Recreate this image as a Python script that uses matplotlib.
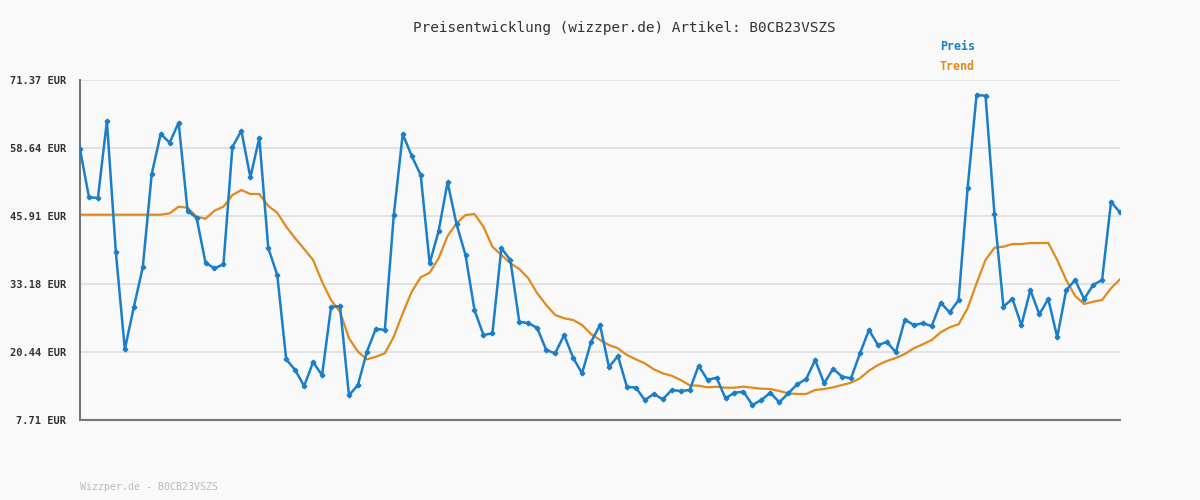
import matplotlib
matplotlib.use("Agg")
import matplotlib.pyplot as plt

price = [58.45,49.41,49.28,63.69,39.11,20.95,28.81,36.30,53.77,61.26,59.63,63.38,46.84,45.59,37.16,36.11,36.86,58.83,61.88,53.15,
         60.51,39.91,34.86,19.07,17.07,14.07,18.57,16.08,28.87,29.05,12.33,14.26,20.50,24.80,24.56,46.09,61.26,57.14,53.58,37.05,
         43.10,52.22,44.35,38.60,28.30,23.62,23.94,39.86,37.67,26.06,25.87,24.93,20.82,20.20,23.62,19.37,16.45,22.31,25.50,17.63,
         19.69,13.94,13.76,11.45,12.58,11.58,13.33,13.14,13.33,17.88,15.20,15.63,11.77,12.82,13.01,10.52,11.45,12.82,11.02,12.71,
         14.39,15.39,18.94,14.58,17.31,15.82,15.52,20.20,24.56,21.75,22.31,20.39,26.49,25.50,25.81,25.31,29.67,27.87,30.18,51.09,
         68.56,68.43,46.22,28.92,30.42,25.44,32.05,27.50,30.36,23.19,32.05,33.92,30.36,32.99,33.92,48.53,46.60]
trend = [46.15,46.15,46.15,46.15,46.15,46.15,46.15,46.15,46.15,46.15,46.41,47.65,47.46,45.77,45.40,46.90,47.65,49.84,50.77,50.02,
         50.02,47.78,46.52,43.90,41.73,39.73,37.67,33.60,30.18,27.99,23.01,20.50,19.07,19.56,20.20,23.31,27.69,31.73,34.43,35.29,
         37.99,42.16,44.54,46.09,46.28,43.90,40.16,38.60,37.05,35.98,34.24,31.43,29.24,27.37,26.75,26.43,25.50,23.81,22.69,21.75,
         21.13,19.88,19.07,18.32,17.20,16.45,16.00,15.20,14.21,14.13,13.83,13.94,13.76,13.76,13.94,13.76,13.57,13.51,13.14,12.71,
         12.58,12.58,13.33,13.51,13.83,14.26,14.69,15.52,16.94,18.01,18.76,19.32,20.07,21.13,21.88,22.69,24.13,25.07,25.63,28.62,
         33.30,37.67,39.97,40.16,40.66,40.66,40.85,40.85,40.85,37.67,33.92,30.93,29.43,29.86,30.18,32.37,34.05]
yticks = [7.71, 20.44, 33.18, 45.91, 58.64, 71.37]
title = "Preisentwicklung (wizzper.de) Artikel: B0CB23VSZS"
footer = "Wizzper.de - B0CB23VSZS"

plt.rcParams['font.family'] = ['DejaVu Sans Mono']
bg = '#f9f9f9'
fig = plt.figure(figsize=(12, 5), dpi=100, facecolor=bg)
ax = fig.add_axes([80/1200, 80/500, 1040/1200, 340/500], facecolor=bg)
x = list(range(len(price)))
ax.plot(x, trend, color='#e08a1e', lw=1.6, zorder=2)
ax.plot(x, price, color='#1a7fc8', lw=1.8, marker='P', ms=3, zorder=3)
ax.set_xlim(0, len(price)-1)
ax.set_ylim(yticks[0], yticks[-1])
ax.set_yticks(yticks)
ax.set_yticklabels([f"{v:.2f} EUR" for v in yticks], fontsize=7.5, fontweight='bold', color='#333333')
ax.set_xticks([])
ax.grid(axis='y', color='#e2e2e2', lw=1.5)
ax.set_axisbelow(True)
for s in ['top', 'right']:
    ax.spines[s].set_visible(False)
for s in ['left', 'bottom']:
    ax.spines[s].set_color('#777777')
    ax.spines[s].set_linewidth(1.5)
ax.tick_params(axis='y', length=0, pad=10)
fig.text(624/1200, 1-28/500, title, ha='center', va='center', fontsize=10.4, color='#333333')
fig.text(940/1200, 1-47/500, "Preis", ha='left', va='center', fontsize=8.4, fontweight='bold', color='#1a7fc8')
fig.text(940/1200, 1-67/500, "Trend", ha='left', va='center', fontsize=8.4, fontweight='bold', color='#e08a1e')
fig.text(80/1200, 1-487/500, footer, ha='left', va='center', fontsize=7.2, color='#bbbbbb')
fig.savefig("out.png", dpi=100, facecolor=bg)
